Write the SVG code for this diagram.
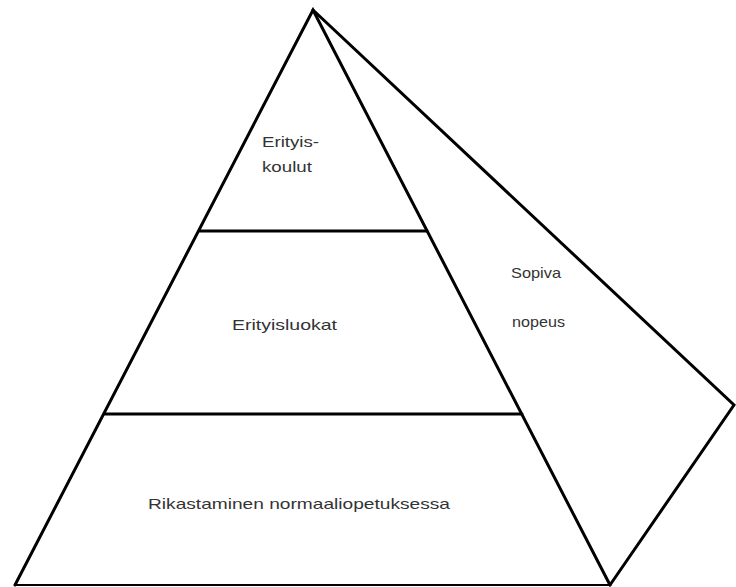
<svg xmlns="http://www.w3.org/2000/svg" width="736" height="587" viewBox="0 0 736 587">
<style>
.ln{fill:none;stroke:#000;stroke-width:3;stroke-linejoin:miter;stroke-linecap:round}
.base{fill:none;stroke:#000;stroke-width:2}
.t{font-family:"Liberation Sans",Arial,sans-serif;font-size:15px;fill:#333}
</style>
<rect width="736" height="587" fill="#fff"/>
<g id="pyramid">
<path class="ln" d="M15,585 L313,10 L610,585"/>
<path class="base" d="M15,585 L610,585"/>
</g>
<g id="side-face">
<path class="ln" d="M313,10 L734,405 L610,585"/>
</g>
<g id="level-top">
<text class="t" x="262" y="147" textLength="57" lengthAdjust="spacingAndGlyphs">Erityis-</text>
<text class="t" x="262" y="172" textLength="50" lengthAdjust="spacingAndGlyphs">koulut</text>
</g>
<g id="divider-1"><line class="ln" x1="200" y1="231" x2="427" y2="231"/></g>
<g id="level-middle">
<text class="t" x="232" y="330" textLength="105" lengthAdjust="spacingAndGlyphs">Erityisluokat</text>
</g>
<g id="divider-2"><line class="ln" x1="105" y1="414" x2="522" y2="414"/></g>
<g id="level-bottom">
<text class="t" x="148" y="509" textLength="302" lengthAdjust="spacingAndGlyphs">Rikastaminen normaaliopetuksessa</text>
</g>
<g id="side-label">
<text class="t" x="511" y="278" textLength="50" lengthAdjust="spacingAndGlyphs">Sopiva</text>
<text class="t" x="512" y="327" textLength="53" lengthAdjust="spacingAndGlyphs">nopeus</text>
</g>
</svg>
